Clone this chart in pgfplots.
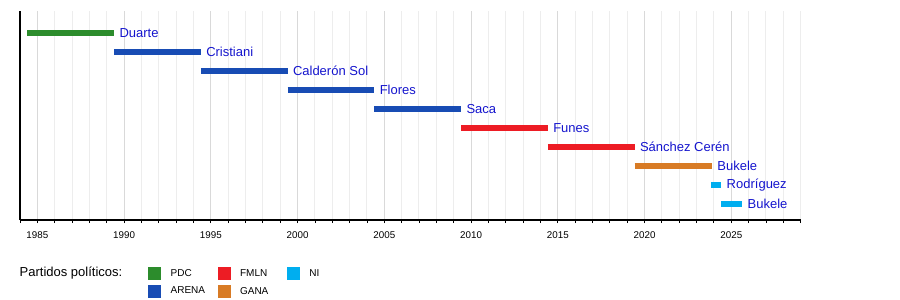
\documentclass[border=0pt]{standalone}
\usepackage{fontspec}
\setmainfont{Liberation Sans}
\usepackage{pgfplots}
\pgfplotsset{compat=1.18}
\definecolor{pdc}{RGB}{44,140,44}
\definecolor{arena}{RGB}{24,76,180}
\definecolor{fmln}{RGB}{237,28,36}
\definecolor{gana}{RGB}{216,123,37}
\definecolor{ni}{RGB}{0,174,239}
\definecolor{lab}{RGB}{20,20,205}
\begin{document}
\begin{tikzpicture}[x=1pt,y=1pt]
\path[use as bounding box] (0,0) rectangle (900,300);
\begin{axis}[
  at={(20pt,80pt)}, anchor=south west,
  scale only axis, width=780.7pt, height=209pt,
  xmin=1984, xmax=2029, ymin=0.158, ymax=11.158,
  axis lines*=left,
  axis line style={black, line width=1.1pt},
  ytick=\empty,
  xtick={1985,1990,...,2025},
  minor xtick={1984,...,2029},
  tick align=outside,
  major tick length=3pt, minor tick length=3pt,
  tick style={black, line width=0.8pt},
  xmajorgrids, xminorgrids,
  major grid style={draw=black!15, line width=1pt},
  minor grid style={draw=black!7, line width=1pt},
  xticklabel style={font=\fontsize{9.8}{11}\selectfont, yshift=-5pt},
  /pgf/number format/assume math mode=true,
  /pgf/number format/1000 sep={},
  clip=false,
  legend style={at={(axis description cs:0.1643,-0.2263)}, anchor=north west,
    draw=none, fill=none, inner sep=0pt, outer sep=0pt,
    font=\fontsize{10}{12}\selectfont, row sep=4.5pt,
    nodes={inner sep=0pt},
    /tikz/every even column/.append style={text width=47pt}},
  legend columns=3,
  legend cell align=left,
  legend image code/.code={\fill[#1, draw=none] (0pt,-6.5pt) rectangle (13pt,6.5pt); \path[draw=none, fill=none] (0pt,0pt) rectangle (22.4pt,0.1pt);},
  every node/.append style={font=\fontsize{13}{15}\selectfont},
]
\addlegendimage{pdc}\addlegendentry{PDC}
\addlegendimage{fmln}\addlegendentry{FMLN}
\addlegendimage{ni}\addlegendentry{NI}
\addlegendimage{arena}\addlegendentry{ARENA}
\addlegendimage{gana}\addlegendentry{GANA}
\tikzset{lbl/.style={pos=1, anchor=west, inner sep=0pt, xshift=2.5pt, text=lab, font=\fontsize{13}{15}\selectfont}}
\addplot[forget plot, pdc, line width=6pt] coordinates {(1984.42,10) (1989.42,10)} node[lbl] {Duarte};
\addplot[forget plot, arena, line width=6pt] coordinates {(1989.42,9) (1994.42,9)} node[lbl] {Cristiani};
\addplot[forget plot, arena, line width=6pt] coordinates {(1994.42,8) (1999.42,8)} node[lbl] {Calderón Sol};
\addplot[forget plot, arena, line width=6pt] coordinates {(1999.42,7) (2004.42,7)} node[lbl] {Flores};
\addplot[forget plot, arena, line width=6pt] coordinates {(2004.42,6) (2009.42,6)} node[lbl] {Saca};
\addplot[forget plot, fmln, line width=6pt] coordinates {(2009.42,5) (2014.42,5)} node[lbl] {Funes};
\addplot[forget plot, fmln, line width=6pt] coordinates {(2014.42,4) (2019.42,4)} node[lbl] {Sánchez Cerén};
\addplot[forget plot, gana, line width=6pt] coordinates {(2019.42,3) (2023.88,3)} node[lbl] {Bukele};
\addplot[forget plot, ni, line width=6pt] coordinates {(2023.85,2) (2024.42,2)} node[lbl] {Rodríguez};
\addplot[forget plot, ni, line width=6pt] coordinates {(2024.42,1) (2025.63,1)} node[lbl] {Bukele};
\end{axis}
\node[anchor=west, inner sep=0pt, font=\fontsize{13}{15}\selectfont] at (19.5,27) {Partidos políticos:};
\end{tikzpicture}
\end{document}
